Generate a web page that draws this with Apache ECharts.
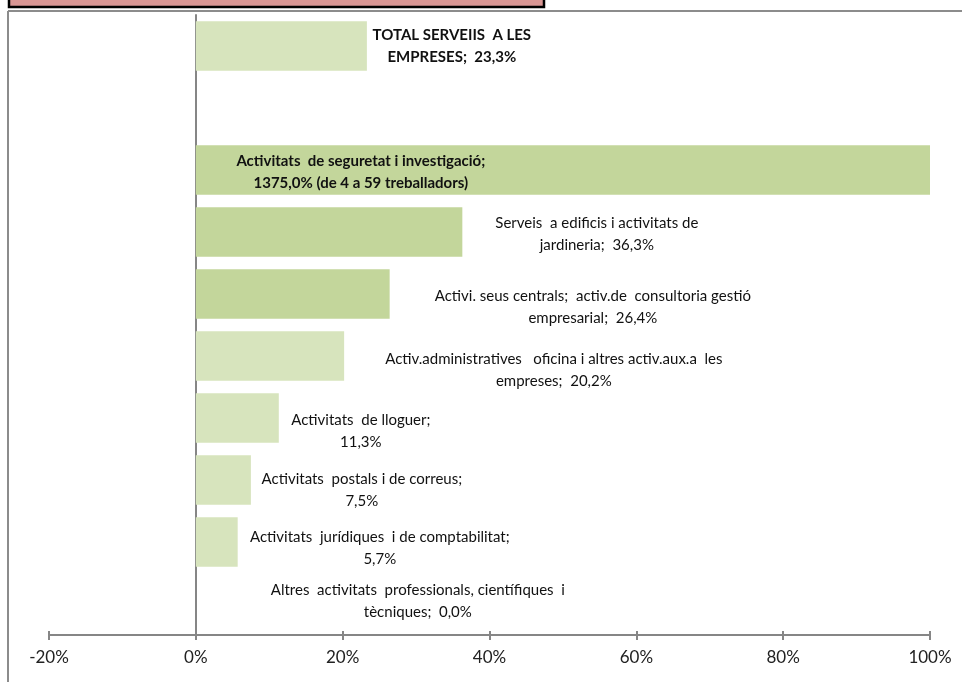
<!DOCTYPE html>
<html>
<head>
<meta charset="utf-8">
<style>
  html, body { margin: 0; padding: 0; background: #fff; }
  #chart { width: 962px; height: 682px; }
</style>
<script src="https://cdn.jsdelivr.net/npm/echarts@6/dist/echarts.min.js"></script>
</head>
<body>
<div id="chart"></div>
<script>
// categories top to bottom; '\n' marks where the label wraps inside the name
const categories = [
  'TOTAL SERVEIIS  A LES\nEMPRESES',
  '',
  'Activitats  de seguretat i investigació',
  'Serveis  a edificis i activitats de\njardineria',
  'Activi. seus centrals;  activ.de  consultoria gestió\nempresarial',
  'Activ.administratives   oficina i altres activ.aux.a  les\nempreses',
  'Activitats  de lloguer',
  'Activitats  postals i de correus',
  'Activitats  jurídiques  i de comptabilitat',
  'Altres  activitats  professionals, científiques  i\ntècniques'
]
const values = [23.3, null, 1375.0, 36.3, 26.4, 20.2, 11.3, 7.5, 5.7, 0.0]
const notes = ['', '', ' (de 4 a 59 treballadors)', '', '', '', '', '', '', '']
const xTicks = [-20, 0, 20, 40, 60, 80, 100]

// label layout: [centre x from the 0% line, shift from bar centre]
const labelOffset = [
  [256, 0], [0, 0], [165, 2], [401, 2], [397, 13],
  [358, 14], [165, 13], [166, 10], [184, 6], [222, -3]
]
const boldRows = [0, 2]
const darkRows = [2, 3, 4]

const LIGHT = '#d7e4bd'
const DARK = '#c3d69b'
const AXIS = '#868686'
const FONT = 'Lato'

const fmt = v => v.toFixed(1).replace('.', ',') + '%'

const chart = echarts.init(document.getElementById('chart'))

const option = {
  animation: false,
  textStyle: { fontFamily: FONT },
  grid: { left: 49, right: 32, top: 15, bottom: 47 },
  xAxis: [
    {
      type: 'value',
      min: xTicks[0],
      max: xTicks[xTicks.length - 1],
      interval: 20,
      splitLine: { show: false },
      axisLine: { show: true, lineStyle: { color: AXIS, width: 2 } },
      axisTick: { show: true, length: 5, lineStyle: { color: AXIS, width: 2 } },
      axisLabel: {
        color: '#222',
        fontSize: 17,
        fontFamily: FONT,
        margin: 14,
        formatter: v => v + '%'
      }
    },
    {
      type: 'value',
      position: 'bottom',
      min: xTicks[0],
      max: xTicks[xTicks.length - 1],
      interval: 20,
      splitLine: { show: false },
      axisLine: { show: false },
      axisTick: { show: true, inside: true, length: 4, lineStyle: { color: AXIS, width: 2 } },
      axisLabel: { show: false }
    }
  ],
  yAxis: {
    type: 'category',
    inverse: true,
    data: categories,
    axisLine: { show: true, onZero: true, lineStyle: { color: AXIS, width: 2 } },
    axisTick: { show: false },
    axisLabel: { show: false },
    splitLine: { show: false }
  },
  series: [
    {
      type: 'bar',
      barCategoryGap: '20%',
      data: values.map((v, i) => ({
        value: v,
        itemStyle: { color: darkRows.includes(i) ? DARK : LIGHT },
        label: {
          show: v !== null,
          position: [labelOffset[i][0], '50%'],
          offset: [0, labelOffset[i][1]],
          align: 'center',
          verticalAlign: 'middle',
          fontWeight: boldRows.includes(i) ? 'bold' : 'normal',
          formatter: () => {
            const name = categories[i]
            const sep = name.includes('\n') ? ';  ' : ';\n'
            return name + sep + fmt(v) + notes[i]
          }
        }
      })),
      label: {
        color: '#111',
        fontSize: 15,
        fontFamily: FONT,
        lineHeight: 22
      }
    }
  ],
  graphic: [
    {
      type: 'rect',
      shape: { x: 9, y: -10, width: 535, height: 17 },
      style: { fill: '#d99694', stroke: '#000', lineWidth: 2.5 },
      silent: true
    },
    {
      type: 'line',
      shape: { x1: 8, y1: 11, x2: 962, y2: 11 },
      style: { stroke: '#8c8c8c', lineWidth: 2 },
      silent: true
    },
    {
      type: 'line',
      shape: { x1: 8, y1: 11, x2: 8, y2: 682 },
      style: { stroke: '#8c8c8c', lineWidth: 2 },
      silent: true
    }
  ]
}

chart.setOption(option)
window.addEventListener('resize', () => chart.resize())
</script>
</body>
</html>
